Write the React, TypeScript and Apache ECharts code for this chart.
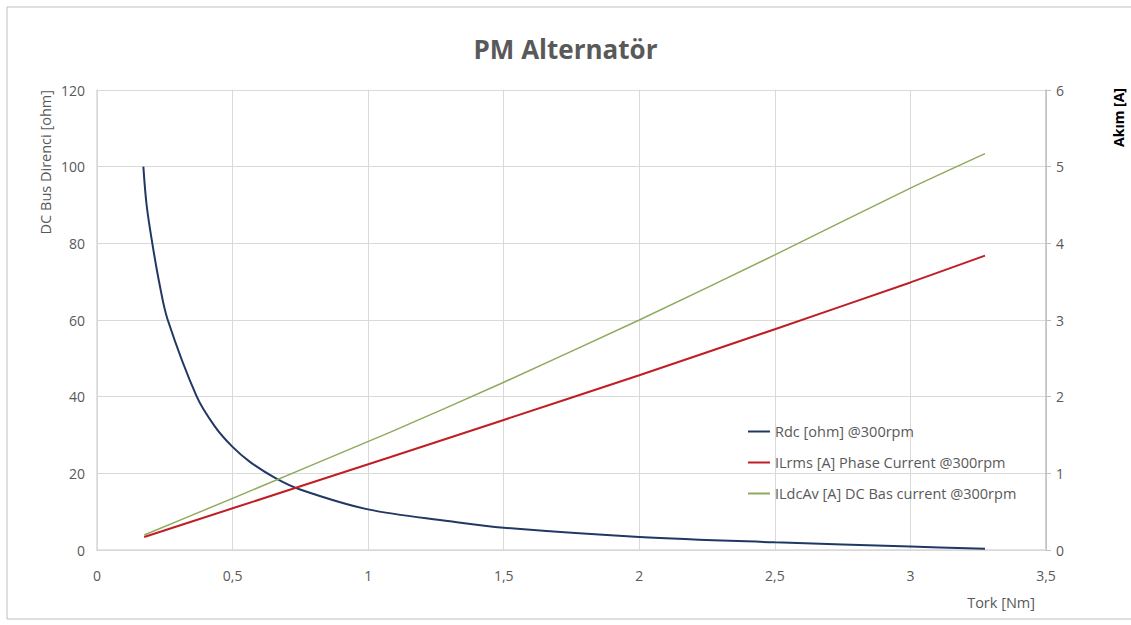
import React, { useEffect, useRef } from "react";
import * as echarts from "echarts";

const rdcTork = [0.171, 0.183, 0.204, 0.23, 0.261, 0.368, 0.435, 0.5, 0.564, 0.655, 0.749, 1.0, 1.302, 1.5, 2.0, 2.5, 3.0, 3.275];
const rdcValues = [100, 90, 80, 69.6, 60, 40, 32.2, 26.9, 23.0, 18.9, 15.8, 10.6, 7.5, 5.8, 3.4, 2.0, 0.9, 0.3];

const currentTork = [0.174, 0.5, 1.08, 1.486, 2.0, 2.5, 3.0, 3.275];
const ilrmsValues = [0.17, 0.544, 1.209, 1.68, 2.28, 2.88, 3.49, 3.84];
const ildcValues = [0.196, 0.674, 1.535, 2.165, 3.0, 3.85, 4.72, 5.17];

const seriesNames = [
  "Rdc [ohm] @300rpm",
  "ILrms [A] Phase Current @300rpm",
  "ILdcAv [A] DC Bas current @300rpm",
];

const FONT = "Open Sans, Noto Sans, sans-serif";
const GRAY = "#595959";

export default function App() {
  const ref = useRef<HTMLDivElement>(null);
  useEffect(() => {
    const chart = echarts.init(ref.current!, null, { renderer: "svg" });
    const fmt = (v: number) => String(v).replace(".", ",");
    chart.setOption({
      animation: false,
      backgroundColor: "#ffffff",
      textStyle: { fontFamily: FONT },
      title: {
        text: "PM Alternatör",
        left: "center",
        top: 31,
        textStyle: { fontFamily: FONT, fontSize: 26, fontWeight: "bold", color: GRAY },
      },
      grid: { left: 97, right: 85, top: 90, bottom: 75, containLabel: false },
      legend: {
        orient: "vertical",
        left: 743,
        top: 419,
        itemGap: 16,
        itemWidth: 22,
        itemHeight: 2,
        icon: "rect",
        textStyle: { fontFamily: FONT, fontSize: 14.5, color: GRAY },
        data: seriesNames,
      },
      xAxis: {
        type: "value",
        min: 0,
        max: 3.5,
        interval: 0.5,
        axisLine: { show: true, lineStyle: { color: "#d9d9d9", width: 1.5 } },
        axisTick: { show: false },
        splitLine: { show: true, lineStyle: { color: "#d9d9d9", width: 1 } },
        axisLabel: { color: GRAY, fontSize: 14, margin: 18, formatter: fmt },
      },
      yAxis: [
        {
          type: "value",
          min: 0,
          max: 120,
          interval: 20,
          position: "left",
          axisLine: { show: true, lineStyle: { color: "#d9d9d9", width: 1.5 } },
          axisTick: { show: false },
          splitLine: { show: true, lineStyle: { color: "#d9d9d9", width: 1 } },
          axisLabel: { color: GRAY, fontSize: 14, margin: 12 },
        },
        {
          type: "value",
          min: 0,
          max: 6,
          interval: 1,
          position: "right",
          axisLine: { show: true, lineStyle: { color: "#bfbfbf", width: 1.5 } },
          axisTick: { show: true, length: 5, lineStyle: { color: "#bfbfbf" } },
          splitLine: { show: false },
          axisLabel: { color: GRAY, fontSize: 14, margin: 10 },
        },
      ],
      graphic: [
        {
          type: "rect",
          shape: { x: 7, y: 7, width: 1140, height: 612 },
          style: { fill: "none", stroke: "#bfbfbf", lineWidth: 1 },
          silent: true,
        },
        {
          type: "text",
          x: 45,
          y: 90,
          rotation: Math.PI / 2,
          style: {
            text: "DC Bus Direnci [ohm]",
            fontFamily: FONT,
            fontSize: 14.5,
            fill: GRAY,
            align: "right",
            verticalAlign: "middle",
          },
        },
        {
          type: "text",
          x: 1118,
          y: 88,
          rotation: Math.PI / 2,
          style: {
            text: "Akım [A]",
            fontFamily: FONT,
            fontSize: 14,
            fontWeight: "bold",
            fill: "#000000",
            align: "right",
            verticalAlign: "middle",
          },
        },
        {
          type: "text",
          x: 1035,
          y: 602,
          style: {
            text: "Tork [Nm]",
            fontFamily: FONT,
            fontSize: 14.5,
            fill: GRAY,
            align: "right",
            verticalAlign: "middle",
          },
        },
      ],
      series: [
        {
          name: seriesNames[0],
          type: "line",
          yAxisIndex: 0,
          smooth: 0.35,
          showSymbol: false,
          lineStyle: { color: "#203864", width: 2 },
          itemStyle: { color: "#203864" },
          data: rdcTork.map((t, i) => [t, rdcValues[i]]),
        },
        {
          name: seriesNames[1],
          type: "line",
          yAxisIndex: 1,
          smooth: 0.2,
          showSymbol: false,
          lineStyle: { color: "#c01e24", width: 2 },
          itemStyle: { color: "#c01e24" },
          data: currentTork.map((t, i) => [t, ilrmsValues[i]]),
        },
        {
          name: seriesNames[2],
          type: "line",
          yAxisIndex: 1,
          smooth: 0.2,
          showSymbol: false,
          lineStyle: { color: "#8faa5c", width: 1.5 },
          itemStyle: { color: "#8faa5c" },
          data: currentTork.map((t, i) => [t, ildcValues[i]]),
        },
      ],
    });
    return () => chart.dispose();
  }, []);
  return (
    <div
      ref={ref}
      style={{ position: "fixed", left: 0, top: 0, width: 1131, height: 625 }}
    />
  );
}
